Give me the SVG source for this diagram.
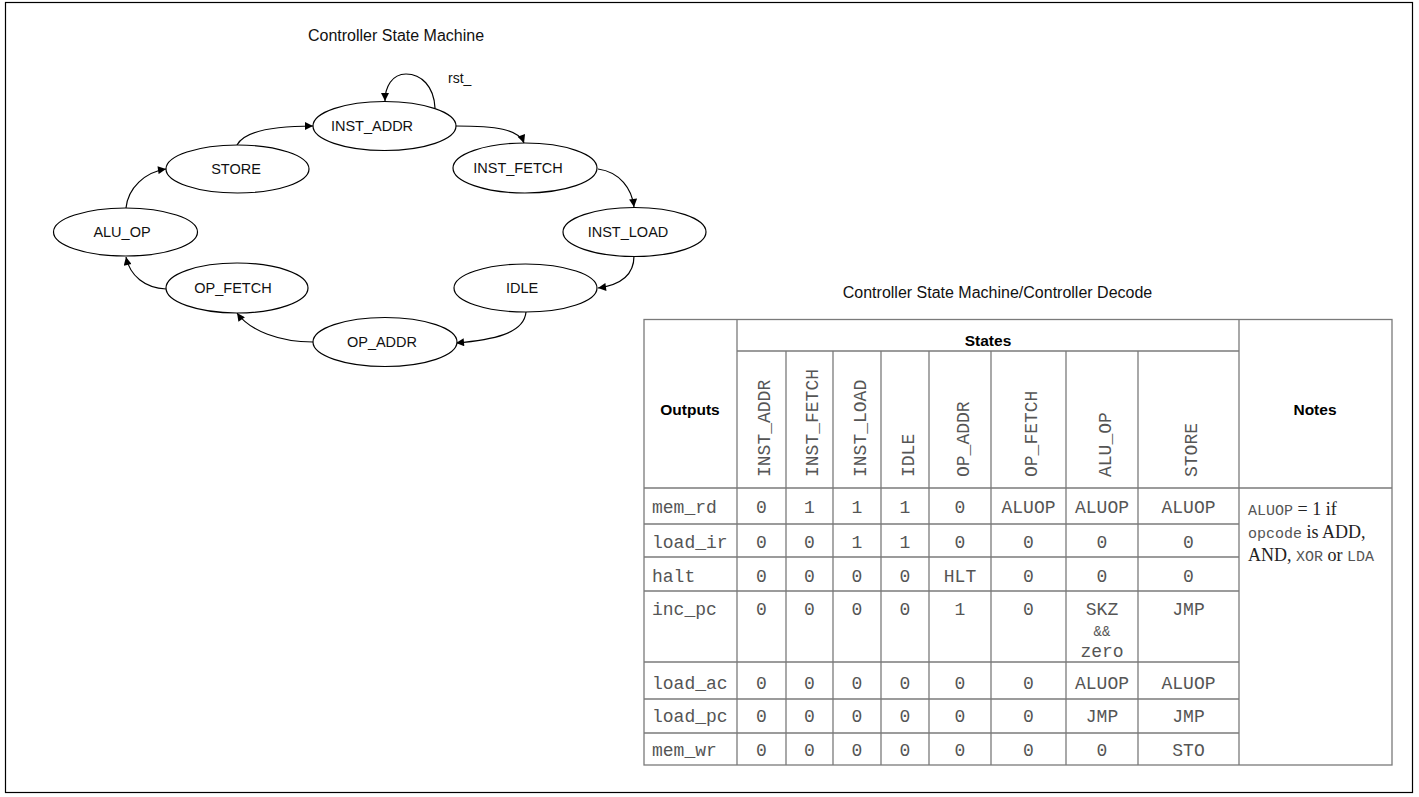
<svg xmlns="http://www.w3.org/2000/svg" width="1419" height="797" viewBox="0 0 1419 797">
<style>
.frame{fill:#fff;stroke:#000;stroke-width:1.2}
.state ellipse{fill:#fff;stroke:#000;stroke-width:1.2}
.state text,.title{font-family:"Liberation Sans",Arial,sans-serif;font-size:14.5px;fill:#111;text-anchor:middle}
.title{font-size:16px}
.conn path{fill:none;stroke:#000;stroke-width:1.2}
.grid line,.grid rect{stroke:#7a7a7a;stroke-width:1.3;fill:none}
.hdr{font-family:"Liberation Sans",Arial,sans-serif;font-weight:bold;font-size:15.5px;fill:#000;text-anchor:middle}
.mono{font-family:"Liberation Mono","Courier New",monospace;font-size:18px;fill:#555}
.c{text-anchor:middle}
.vt{font-family:"Liberation Mono","Courier New",monospace;font-size:18px;fill:#555}
.note{font-family:"Liberation Serif","Times New Roman",serif;font-size:18px;fill:#222}
.nm{font-family:"Liberation Mono","Courier New",monospace;font-size:15px;fill:#555}
</style>
<defs>
<marker id="arr" viewBox="0 0 10 10" refX="10" refY="5" markerWidth="10" markerHeight="8" markerUnits="userSpaceOnUse" orient="auto">
<path d="M0,0 L10,5 L0,10 z" fill="#000"/>
</marker>
</defs>
<rect class="frame" x="5.5" y="2.5" width="1407" height="790"/>

<text class="title" x="396" y="41">Controller State Machine</text>

<g id="connectors" class="conn">
<path d="M456,126 C495,126 519,129 524,143" marker-end="url(#arr)"/>
<path d="M598,169 C620,172 632,189 634,207" marker-end="url(#arr)"/>
<path d="M634,256 C634,275 620,285 598,288" marker-end="url(#arr)"/>
<path d="M526,312 C524,334 492,340 456,343" marker-end="url(#arr)"/>
<path d="M313,342 C280,342 250,331 237,313" marker-end="url(#arr)"/>
<path d="M166,289 C145,288 130,276 126,257" marker-end="url(#arr)"/>
<path d="M126,208 C128,188 145,172 166,169" marker-end="url(#arr)"/>
<path d="M237,145 C245,130 280,126 313,126" marker-end="url(#arr)"/>
<path d="M435,108 C434,86 421,74 406,74 C392,74 385,87 385,101" marker-end="url(#arr)"/>
<text x="448" y="83" style="font-family:'Liberation Sans',Arial,sans-serif;font-size:14px;fill:#111">rst_</text>
</g>

<g id="s_inst_addr" class="state"><ellipse cx="384.5" cy="126" rx="71.5" ry="24.5"/><text x="372" y="131">INST_ADDR</text></g>
<g id="s_inst_fetch" class="state"><ellipse cx="525" cy="168" rx="72" ry="25"/><text x="518" y="173">INST_FETCH</text></g>
<g id="s_inst_load" class="state"><ellipse cx="634.5" cy="232" rx="71.5" ry="24.5"/><text x="628" y="237">INST_LOAD</text></g>
<g id="s_idle" class="state"><ellipse cx="525.5" cy="288" rx="71.5" ry="24"/><text x="522" y="293">IDLE</text></g>
<g id="s_op_addr" class="state"><ellipse cx="385" cy="342" rx="72" ry="24.5"/><text x="382" y="347">OP_ADDR</text></g>
<g id="s_op_fetch" class="state"><ellipse cx="237" cy="288" rx="71" ry="25"/><text x="233" y="293">OP_FETCH</text></g>
<g id="s_alu_op" class="state"><ellipse cx="125.5" cy="232" rx="72" ry="24"/><text x="122" y="237">ALU_OP</text></g>
<g id="s_store" class="state"><ellipse cx="237.5" cy="169" rx="71.5" ry="24"/><text x="236" y="174">STORE</text></g>

<text class="title" x="997.5" y="298">Controller State Machine/Controller Decode</text>

<g id="table">
<g class="grid">
<rect x="644" y="319.5" width="748" height="445.5"/>
<line x1="737" y1="319.5" x2="737" y2="765"/>
<line x1="1239" y1="319.5" x2="1239" y2="765"/>
<line x1="737" y1="351" x2="1239" y2="351"/>
<line x1="786" y1="351" x2="786" y2="765"/>
<line x1="833" y1="351" x2="833" y2="765"/>
<line x1="881" y1="351" x2="881" y2="765"/>
<line x1="929" y1="351" x2="929" y2="765"/>
<line x1="991" y1="351" x2="991" y2="765"/>
<line x1="1066" y1="351" x2="1066" y2="765"/>
<line x1="1138" y1="351" x2="1138" y2="765"/>
<line x1="644" y1="488" x2="1392" y2="488"/>
<line x1="644" y1="524" x2="1239" y2="524"/>
<line x1="644" y1="557" x2="1239" y2="557"/>
<line x1="644" y1="591" x2="1239" y2="591"/>
<line x1="644" y1="662" x2="1239" y2="662"/>
<line x1="644" y1="699" x2="1239" y2="699"/>
<line x1="644" y1="733" x2="1239" y2="733"/>
</g>
<text class="hdr" x="690" y="415">Outputs</text>
<text class="hdr" x="988" y="346">States</text>
<text class="hdr" x="1315" y="415">Notes</text>

<text class="vt" transform="translate(770,477) rotate(-90)">INST_ADDR</text>
<text class="vt" transform="translate(818,477) rotate(-90)">INST_FETCH</text>
<text class="vt" transform="translate(865.5,477) rotate(-90)">INST_LOAD</text>
<text class="vt" transform="translate(913.5,477) rotate(-90)">IDLE</text>
<text class="vt" transform="translate(968.5,477) rotate(-90)">OP_ADDR</text>
<text class="vt" transform="translate(1037,477) rotate(-90)">OP_FETCH</text>
<text class="vt" transform="translate(1110.5,477) rotate(-90)">ALU_OP</text>
<text class="vt" transform="translate(1197,477) rotate(-90)">STORE</text>

<g class="mono">
<text x="652" y="513">mem_rd</text>
<text x="652" y="548">load_ir</text>
<text x="652" y="582">halt</text>
<text x="652" y="615">inc_pc</text>
<text x="652" y="689">load_ac</text>
<text x="652" y="722">load_pc</text>
<text x="652" y="756">mem_wr</text>
</g>
<g class="mono c">
<text x="761.5" y="513">0</text><text x="809.5" y="513">1</text><text x="857" y="513">1</text><text x="905" y="513">1</text><text x="960" y="513">0</text><text x="1028.5" y="513">ALUOP</text><text x="1102" y="513">ALUOP</text><text x="1188.5" y="513">ALUOP</text>
<text x="761.5" y="548">0</text><text x="809.5" y="548">0</text><text x="857" y="548">1</text><text x="905" y="548">1</text><text x="960" y="548">0</text><text x="1028.5" y="548">0</text><text x="1102" y="548">0</text><text x="1188.5" y="548">0</text>
<text x="761.5" y="582">0</text><text x="809.5" y="582">0</text><text x="857" y="582">0</text><text x="905" y="582">0</text><text x="960" y="582">HLT</text><text x="1028.5" y="582">0</text><text x="1102" y="582">0</text><text x="1188.5" y="582">0</text>
<text x="761.5" y="615">0</text><text x="809.5" y="615">0</text><text x="857" y="615">0</text><text x="905" y="615">0</text><text x="960" y="615">1</text><text x="1028.5" y="615">0</text><text x="1102" y="615">SKZ</text><text x="1188.5" y="615">JMP</text>
<text x="1102" y="636" style="font-size:14px">&amp;&amp;</text>
<text x="1102" y="657">zero</text>
<text x="761.5" y="689">0</text><text x="809.5" y="689">0</text><text x="857" y="689">0</text><text x="905" y="689">0</text><text x="960" y="689">0</text><text x="1028.5" y="689">0</text><text x="1102" y="689">ALUOP</text><text x="1188.5" y="689">ALUOP</text>
<text x="761.5" y="722">0</text><text x="809.5" y="722">0</text><text x="857" y="722">0</text><text x="905" y="722">0</text><text x="960" y="722">0</text><text x="1028.5" y="722">0</text><text x="1102" y="722">JMP</text><text x="1188.5" y="722">JMP</text>
<text x="761.5" y="756">0</text><text x="809.5" y="756">0</text><text x="857" y="756">0</text><text x="905" y="756">0</text><text x="960" y="756">0</text><text x="1028.5" y="756">0</text><text x="1102" y="756">0</text><text x="1188.5" y="756">STO</text>
</g>

<text class="note" x="1248" y="515"><tspan class="nm">ALUOP</tspan> = 1 if</text>
<text class="note" x="1248" y="538"><tspan class="nm">opcode</tspan> is ADD,</text>
<text class="note" x="1248" y="561">AND, <tspan class="nm">XOR</tspan> or <tspan class="nm">LDA</tspan></text>
</g>
</svg>
